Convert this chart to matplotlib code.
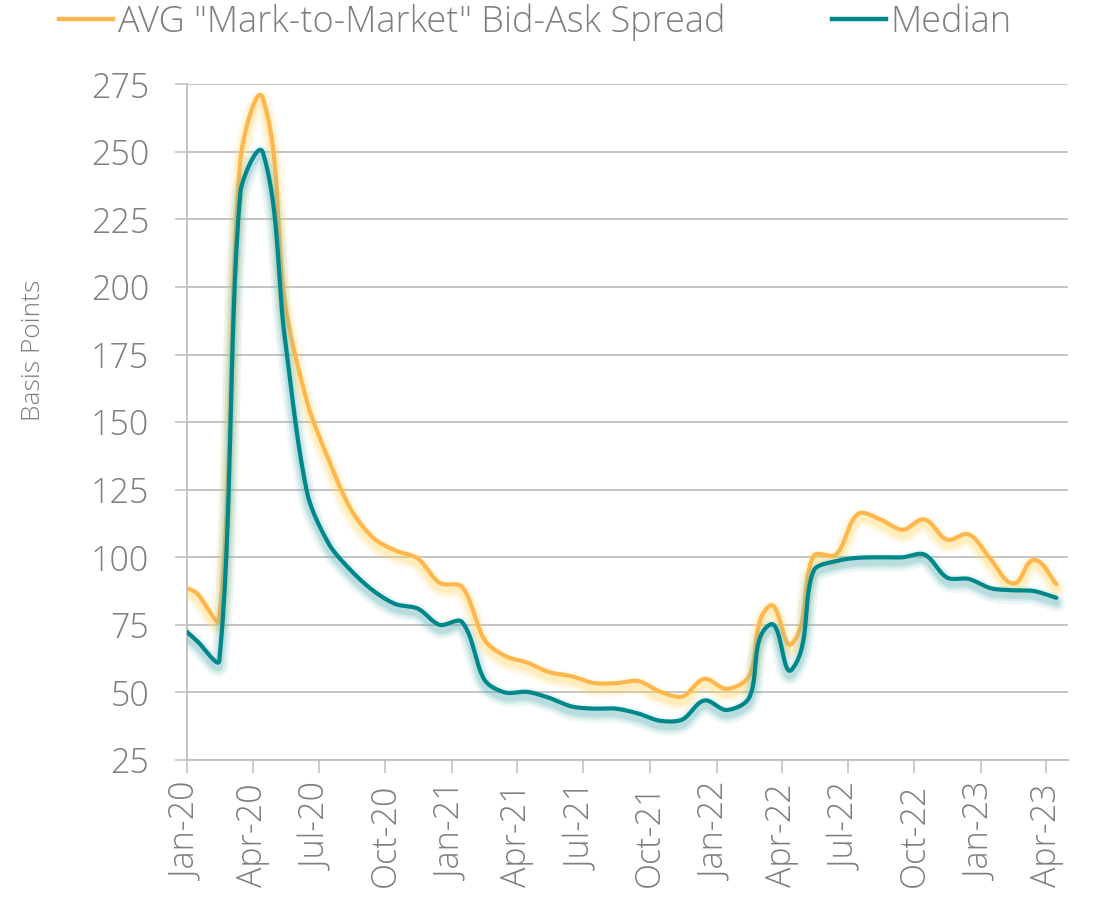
import numpy as np
import pandas as pd
import matplotlib
matplotlib.use("Agg")
import matplotlib.pyplot as plt
import matplotlib.dates as mdates
from matplotlib import patheffects as pe
from matplotlib.lines import Line2D

# ---------------- data ----------------
dates = ["2020-01-01"] + [d.strftime("%Y-%m-%d") for d in pd.date_range("2020-01-01", "2023-04-01", freq="MS") + pd.Timedelta(days=14)]
avg_spread = [88.6, 86.7, 76.9, 247.0, 269.8, 195.0, 157.5, 136.0, 117.5, 107.0,
              102.5, 99.5, 90.5, 89.0, 69.4, 63.5, 61.0, 57.5, 56.0, 53.5,
              53.4, 54.2, 50.3, 48.5, 55.0, 51.3, 56.0, 82.0, 68.0, 100.5,
              101.0, 116.0, 114.0, 110.2, 114.0, 106.5, 108.5, 99.0, 90.3, 99.0,
              90.0]
median_spread = [72.5, 69.1, 61.8, 234.9, 249.8, 182.0, 124.0, 105.0, 95.0, 87.5,
                 82.7, 81.0, 75.0, 76.0, 54.6, 50.0, 50.2, 48.0, 44.8, 44.0,
                 44.0, 42.2, 39.5, 40.0, 47.0, 43.5, 48.0, 75.0, 58.5, 95.0,
                 98.6, 99.8, 100.0, 100.0, 101.0, 92.5, 92.0, 88.5, 87.8, 87.5,
                 85.0]
series_names = ['AVG "Mark-to-Market" Bid-Ask Spread', 'Median']
yticks = [25, 50, 75, 100, 125, 150, 175, 200, 225, 250, 275]
y_label = "Basis Points"
x_start, x_end = "2020-01-01", "2023-05-01"

# ---------------- style ----------------
GRAY_TXT = "#7f7f7f"
GRID = "#bfbfbf"
C_AVG = "#ffb74d"
C_MED = "#00878a"
GLOW_AVG = "#ffd966"
GLOW_MED = "#5fb3b5"
FONT = ["Open Sans", "DejaVu Sans"]
WEIGHT = 300

plt.rcParams["font.family"] = FONT
plt.rcParams["font.weight"] = WEIGHT

fig = plt.figure(figsize=(10.99, 8.98), dpi=100)
ax = fig.add_axes([0.1699, 0.1537, 0.8019, 0.7524])

x = mdates.date2num(pd.to_datetime(dates))
ax.set_xlim(mdates.date2num(pd.Timestamp(x_start)), mdates.date2num(pd.Timestamp(x_end)))
ax.set_ylim(yticks[0], yticks[-1])


def smooth(xs, ys, n=30, s=0.3):
    """Bezier smoothing (spreadsheet style) computed in display space."""
    P = ax.transData.transform(np.column_stack([xs, ys]))
    N = len(P)
    D = np.zeros_like(P)
    for i in range(N):
        v = P[min(i + 1, N - 1)] - P[max(i - 1, 0)]
        D[i] = v / np.linalg.norm(v)
    out = []
    t = np.linspace(0, 1, n, endpoint=False)[:, None]
    for i in range(N - 1):
        L = np.linalg.norm(P[i + 1] - P[i])
        c1 = P[i] + D[i] * L * s
        c2 = P[i + 1] - D[i + 1] * L * s
        B = ((1 - t) ** 3) * P[i] + 3 * ((1 - t) ** 2) * t * c1 + 3 * (1 - t) * t ** 2 * c2 + t ** 3 * P[i + 1]
        out.append(B)
    out.append(P[-1:])
    S = np.vstack(out)
    R = ax.transData.inverted().transform(S)
    return R[:, 0], R[:, 1]


def glow(color):
    return [
        pe.SimpleLineShadow(offset=(0, -3.5), shadow_color=color, alpha=0.11, rho=1, linewidth=13),
        pe.SimpleLineShadow(offset=(0, -3.5), shadow_color=color, alpha=0.16, rho=1, linewidth=9),
        pe.SimpleLineShadow(offset=(0, -3.5), shadow_color=color, alpha=0.24, rho=1, linewidth=5.5),
        pe.Normal(),
    ]


for ys, c, g in [(avg_spread, C_AVG, GLOW_AVG), (median_spread, C_MED, GLOW_MED)]:
    sx, sy = smooth(x, ys)
    ax.plot(sx, sy, color=c, lw=3.0, solid_capstyle="round", solid_joinstyle="round",
            path_effects=glow(g), zorder=3)

# axes styling
ax.set_yticks(yticks)
ax.xaxis.set_major_locator(mdates.MonthLocator(bymonth=[1, 4, 7, 10], bymonthday=1))
ax.xaxis.set_major_formatter(mdates.DateFormatter("%b-%y"))
ax.grid(axis="y", color=GRID, lw=1.3)
ax.set_axisbelow(True)
for s in ["top", "right"]:
    ax.spines[s].set_visible(False)
for s in ["left", "bottom"]:
    ax.spines[s].set_color(GRID)
    ax.spines[s].set_linewidth(1.3)
ax.tick_params(axis="both", colors=GRID, length=9, width=1.1)
ax.tick_params(axis="both", labelcolor=GRAY_TXT, labelsize=24.5)
ax.tick_params(axis="y", pad=18)
ax.tick_params(axis="x", pad=8, labelrotation=90)
for lbl in ax.get_xticklabels() + ax.get_yticklabels():
    lbl.set_fontweight(WEIGHT)
ax.set_ylabel(y_label, color=GRAY_TXT, fontsize=19, va="center", fontweight=WEIGHT)
ax.yaxis.set_label_coords(-0.1744, 0.607)

handles = [Line2D([], [], color=C_AVG, lw=3.2), Line2D([], [], color=C_MED, lw=3.2)]
leg = fig.legend(handles, series_names, loc="center left", bbox_to_anchor=(59 / 1099, 1 - 22 / 898),
                 ncol=2, frameon=False, fontsize=26, handlelength=1.5, handletextpad=0.13,
                 columnspacing=2.95, borderaxespad=0, borderpad=0)
for t in leg.get_texts():
    t.set_color(GRAY_TXT)
    t.set_fontweight(WEIGHT)

fig.savefig("out.png", dpi=100)
